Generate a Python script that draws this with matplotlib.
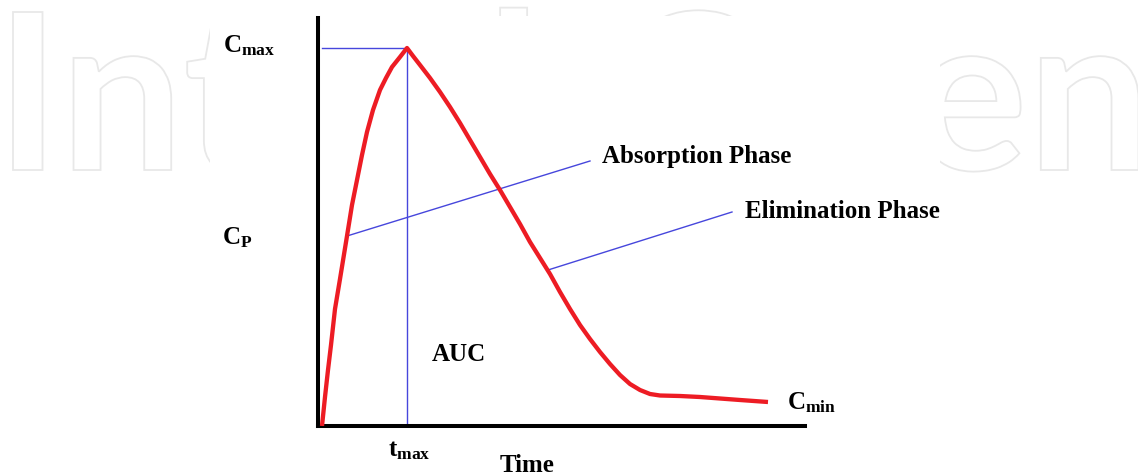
import matplotlib
matplotlib.use("Agg")
import matplotlib.pyplot as plt
from matplotlib.textpath import TextPath
from matplotlib.font_manager import FontProperties
from matplotlib.patches import PathPatch, Rectangle
from matplotlib.transforms import Affine2D, IdentityTransform

# ---------------- data (time units, concentration units) ----------------
time = [0.100, 0.175, 0.250, 0.325, 0.425, 0.550, 0.725, 0.850, 0.975, 1.100,
        1.225, 1.375, 1.550, 1.700, 1.850, 2.050, 2.225,
        2.375, 2.550, 2.800, 3.050, 3.300, 3.550, 3.800, 4.050, 4.300, 4.550,
        4.800, 5.050, 5.300, 5.550, 5.800, 6.050, 6.300, 6.550, 6.800, 7.050,
        7.300, 7.550, 7.800, 8.050, 8.300, 8.550, 9.050, 9.550, 10.050, 10.550,
        11.250]
conc = [0.000, 0.725, 1.400, 2.025, 2.925, 3.675, 4.750, 5.525, 6.150, 6.775,
        7.350, 7.900, 8.400, 8.700, 8.975, 9.225, 9.450,
        9.250, 9.025, 8.700, 8.350, 7.975, 7.575, 7.150, 6.725, 6.300, 5.900,
        5.475, 5.050, 4.600, 4.200, 3.800, 3.350, 2.925, 2.525, 2.175, 1.850,
        1.550, 1.275, 1.050, 0.900, 0.800, 0.7625, 0.750, 0.725, 0.6875, 0.650,
        0.600]

t_start = 0.10
t_max = 2.225
c_max = 9.45

absorption_line_t = [0.725, 6.8]
absorption_line_c = [4.75, 6.625]
elimination_line_t = [5.75, 10.35]
elimination_line_c = [3.90, 5.35]

x_limit = 12.175
y_limit = 10.2

labels = {
    "cmax": r"$\mathrm{C}_{\mathrm{max}}$",
    "cp": r"$\mathrm{C}_{\mathrm{P}}$",
    "tmax": r"$\mathrm{t}_{\mathrm{max}}$",
    "cmin": r"$\mathrm{C}_{\mathrm{min}}$",
    "time": "Time",
    "auc": "AUC",
    "abs": "Absorption Phase",
    "elim": "Elimination Phase",
}
watermark = "IntechOpen"

# ---------------- styling ----------------
plt.rcParams["mathtext.fontset"] = "custom"
plt.rcParams["mathtext.rm"] = "Liberation Serif:bold"
plt.rcParams["mathtext.bf"] = "Liberation Serif:bold"
plt.rcParams["mathtext.it"] = "Liberation Serif:bold"

W, H = 1138, 476
fig = plt.figure(figsize=(W / 100, H / 100), dpi=100)
fig.patch.set_facecolor("white")

# faint watermark (outlined text) behind the chart
fp = FontProperties(family="Lato", weight="bold")
tp_I = TextPath((0, 0), "I", size=1, prop=fp)
ext_I = tp_I.get_extents()
scale = 158.0 / ext_I.height
tp = TextPath((0, 0), watermark, size=1, prop=fp)
ext = tp.get_extents()
trans = Affine2D().scale(scale).translate(13 - ext.x0 * scale, H - 170)
wm = PathPatch(trans.transform_path(tp), facecolor="white", edgecolor="#e8e8e8",
               lw=1.3, transform=IdentityTransform(), zorder=-3)
fig.add_artist(wm)
fig.add_artist(Rectangle((210, 0), 730, H - 16, facecolor="white", edgecolor="none",
                         transform=IdentityTransform(), zorder=-2))

ax = fig.add_axes([318 / W, (H - 426) / H, 487 / W, 408 / H])
ax.patch.set_visible(False)
ax.set_xlim(0, x_limit)
ax.set_ylim(0, y_limit)
for s in ["top", "right"]:
    ax.spines[s].set_visible(False)
for s in ["left", "bottom"]:
    ax.spines[s].set_linewidth(2.9)
    ax.spines[s].set_color("black")
    ax.spines[s].set_capstyle("projecting")
ax.set_xticks([])
ax.set_yticks([])

blue = "#4646dc"
ax.plot([t_start, t_max], [c_max, c_max], color=blue, lw=1.0, zorder=2)
ax.plot([t_max, t_max], [0, c_max], color=blue, lw=1.0, zorder=2)
ax.plot(absorption_line_t, absorption_line_c, color=blue, lw=1.0, zorder=2)
ax.plot(elimination_line_t, elimination_line_c, color=blue, lw=1.0, zorder=2)

ax.plot(time, conc, color="#ed1c24", lw=3.1, zorder=3, solid_joinstyle="round",
        solid_capstyle="butt")

tkw = dict(fontsize=18, fontfamily="Liberation Serif", fontweight="bold",
           color="black", clip_on=False)
ax.text(-2.375, 9.5, labels["cmax"], ha="left", va="center", **tkw)
ax.text(-2.4, 4.7, labels["cp"], ha="left", va="center", **tkw)
ax.text(1.75, -0.62, labels["tmax"], ha="left", va="center", **tkw)
ax.text(5.225, -0.98, labels["time"], ha="center", va="center", **tkw)
ax.text(2.85, 1.78, labels["auc"], ha="left", va="center", **tkw)
ax.text(7.1, 6.75, labels["abs"], ha="left", va="center", **tkw)
ax.text(10.675, 5.35, labels["elim"], ha="left", va="center", **tkw)
ax.text(11.725, 0.58, labels["cmin"], ha="left", va="center", **tkw)

fig.savefig("out.png", dpi=100, facecolor="white")
